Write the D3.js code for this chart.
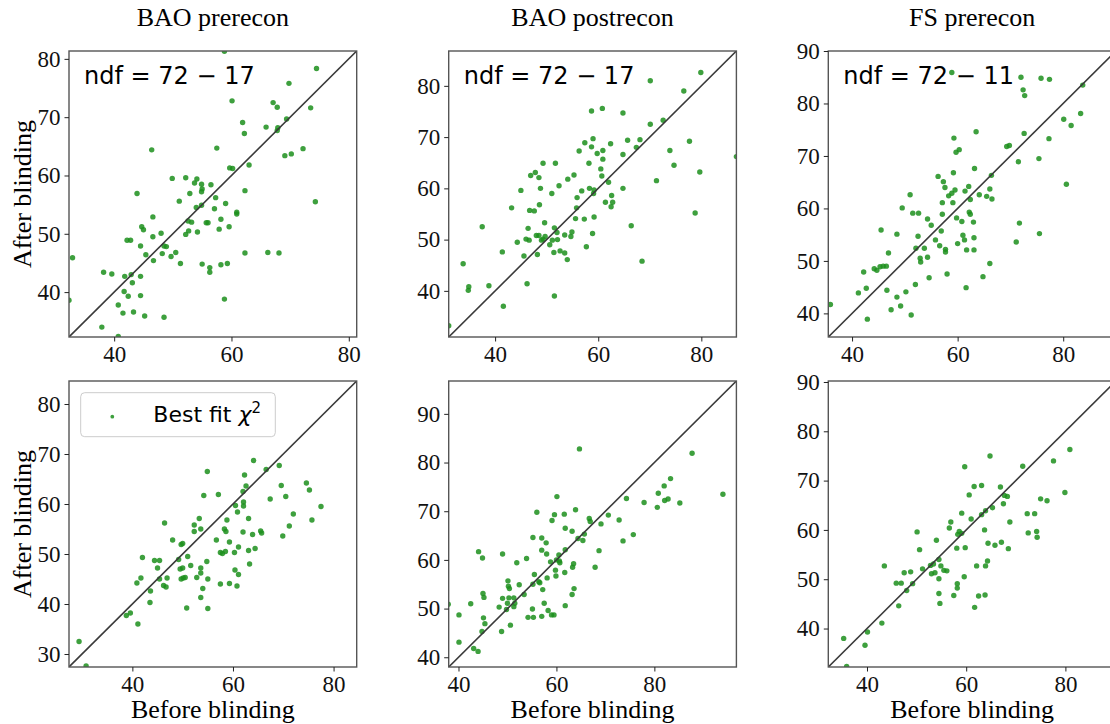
<!DOCTYPE html>
<html>
<head>
<meta charset="utf-8">
<script src="https://cdn.jsdelivr.net/npm/d3@7"></script>
<style>
  html, body { margin: 0; padding: 0; background: #fff; }
  svg { display: block; }
</style>
</head>
<body>
<svg id="chart" width="1110" height="724"></svg>
<script>
// Column titles and per-panel annotations
const columnTitles = ["BAO prerecon", "BAO postrecon", "FS prerecon"];
const ndfLabels = ["ndf = 72 \u2212 17", "ndf = 72 \u2212 17", "ndf = 72 \u2212 11"];
const legendLabel = "Best fit";
const xLabel = "Before blinding";
const yLabel = "After blinding";

// Axis limits (same for x and y in each panel), row-major order
const limits = [
  [32.3, 81.35], [31.0, 86.8], [35.5, 90.0],
  [27.4, 84.6], [38.0, 96.75], [32.2, 90.2]
];
const xTicks = [40, 60, 80];
const yTicks = [
  [40, 50, 60, 70, 80], [40, 50, 60, 70, 80], [40, 50, 60, 70, 80, 90],
  [30, 40, 50, 60, 70, 80], [40, 50, 60, 70, 80, 90], [40, 50, 60, 70, 80, 90]
];

// [before, after] pairs, top row
const baoPreUpper = [
  [58.8,81.3],[74.5,78.35],[69.8,75.8],[60.1,72.8],[67.1,72.5],[67.8,71.7],[73.5,71.6],[69.4,69.7],
  [61.9,69.1],[62.2,67.2],[65.9,68.3],[67.9,68.2],[67.8,67.7],[57.5,64.7],[46.4,64.4],[72.2,64.6],
  [70.2,63.7],[69.1,63.4],[63.0,61.8],[59.7,61.3],[60.2,61.2],[49.9,59.5],[52.2,59.6],[54.1,59.4],
  [53.7,58.7],[54.9,58.5],[56.5,58.4],[43.9,56.9],[55.0,57.7],[54.9,57.2],[52.9,56.9],[57.3,56.2],
  [51.1,55.6],[74.3,55.5],[59.0,55.2],[54.0,54.5],[57.1,54.3],[54.9,54.9],[60.9,53.7],[60.9,53.4],
  [62.3,57.4],[46.6,52.9],[52.6,52.2],[53.2,52.0],[55.7,51.9],[56.0,51.9],[58.2,52.5],[59.6,51.2],
  [57.9,50.8],[44.7,51.2],[45.0,50.7],[52.7,50.5],[54.2,50.3],[48.0,50.1],[52.2,49.9],[46.6,49.5],
  [42.2,48.9],[42.8,48.9],[44.5,47.9],[48.5,47.9],[48.9,47.8],[50.5,46.8],[45.4,46.4],[48.2,46.6],
  [49.7,46.1],[62.3,46.7],[66.2,46.8],[68.1,46.7],[46.7,45.4],[51.3,44.9],[55.0,44.8],[58.2,44.7],
  [59.3,44.9],[56.3,44.2],[56.3,43.4],[32.9,45.9],[38.2,43.4],[39.6,43.1],[41.8,42.7],[42.9,43.0],
  [44.5,42.7],[43.1,41.6],[41.7,40.1],[42.4,39.3],[44.5,39.4],[58.8,38.8],[32.3,38.6],[40.7,37.8],
  [41.5,36.4],[43.3,36.6],[45.2,35.9],[48.5,35.7],[37.9,34.0],[40.7,32.4]
];
const baoPostUpper = [
  [31.0,33.2],[33.8,45.3],[34.9,40.8],[34.8,40.1],[37.5,52.5],[38.8,41.0],[41.4,47.6],[41.6,37.0],
  [43.2,56.2],[44.3,49.5],[45.0,59.6],[45.6,46.8],[46.2,41.4],[46.4,52.2],[46.6,49.9],[46.7,55.7],
  [46.0,50.1],[46.9,62.5],[47.6,55.6],[47.8,63.1],[48.0,50.8],[48.5,62.1],[48.2,47.1],[48.6,56.8],
  [48.8,60.0],[48.5,50.8],[49.0,49.9],[49.3,50.1],[49.3,64.9],[49.6,53.3],[49.7,50.6],[50.6,49.0],
  [51.0,59.0],[51.1,49.9],[51.4,47.5],[51.5,39.0],[51.5,52.3],[51.7,64.9],[52.0,51.4],[52.1,50.0],
  [52.4,60.5],[52.6,47.8],[53.5,47.4],[53.5,50.9],[54.0,46.1],[54.1,61.8],[54.7,50.6],[54.9,51.5],
  [55.3,62.6],[55.6,54.1],[55.8,56.2],[55.9,58.2],[56.3,67.3],[56.8,59.5],[57.3,54.0],[57.4,68.9],
  [57.7,48.6],[58.2,64.9],[58.3,60.0],[58.7,75.1],[58.7,68.1],[58.9,51.2],[59.0,69.7],[59.2,59.7],
  [59.1,59.0],[59.2,54.4],[59.8,66.8],[60.5,63.8],[60.7,62.4],[60.8,75.6],[60.9,67.4],[60.9,65.7],
  [61.4,57.3],[62.0,61.2],[62.4,68.7],[62.6,58.6],[62.5,56.4],[62.8,57.3],[64.8,74.7],[64.8,66.6],
  [64.8,60.0],[65.7,69.4],[66.4,52.7],[67.4,68.0],[68.1,69.5],[68.5,45.8],[70.1,81.0],[70.1,72.5],
  [71.3,61.5],[72.6,73.3],[73.9,67.4],[74.7,64.5],[76.6,79.0],[77.7,69.2],[78.8,55.2],[79.7,63.2],
  [79.9,82.6],[86.8,66.2]
];
const fsPreUpper = [
  [35.9,41.7],[41.2,43.9],[42.7,44.8],[42.9,38.9],[42.2,47.9],[44.2,48.5],[44.7,48.2],[45.5,55.9],
  [45.3,48.9],[45.9,49.0],[46.5,49.0],[46.6,44.4],[46.9,51.5],[47.4,40.7],[48.5,55.1],[48.5,43.1],
  [49.2,41.4],[49.5,60.1],[50.2,44.1],[51.0,62.6],[51.2,39.7],[51.5,59.1],[52.0,45.5],[52.1,52.4],
  [52.5,54.7],[52.6,59.1],[52.9,50.5],[53.0,49.8],[53.7,52.4],[54.3,58.0],[54.3,50.7],[54.6,46.8],
  [55.0,56.8],[55.8,54.0],[56.3,66.1],[56.6,52.9],[56.9,55.7],[57.1,58.9],[57.1,61.1],[57.3,65.1],
  [57.6,64.0],[57.7,52.2],[57.7,51.7],[58.0,47.5],[58.3,62.4],[58.9,85.9],[58.9,62.9],[59.1,61.1],
  [59.2,66.8],[59.3,73.4],[59.5,63.5],[59.7,70.7],[59.8,58.2],[60.0,53.3],[60.3,71.2],[60.8,57.5],
  [61.0,54.9],[61.3,54.0],[61.4,63.3],[61.7,52.1],[61.6,44.9],[62.1,64.2],[62.2,59.3],[62.4,58.9],
  [62.4,61.7],[63.0,57.4],[63.1,54.4],[63.1,52.1],[63.2,67.6],[63.5,74.6],[64.1,62.6],[64.8,47.0],
  [65.5,62.3],[66.1,49.5],[66.1,63.7],[66.4,66.3],[66.5,61.8],[69.3,71.8],[69.8,72.0],[71.1,53.6],
  [71.5,68.9],[71.7,57.2],[72.0,85.0],[72.4,82.6],[72.7,81.5],[72.6,74.3],[75.4,69.5],[75.5,55.2],
  [75.8,84.8],[77.3,73.3],[77.4,84.6],[80.1,77.0],[80.6,64.6],[81.5,75.8],[83.3,78.1],[83.7,83.5]
];

// [before, after] pairs, bottom row (best-fit chi-square)
const baoPreLower = [
  [29.4,32.5],[30.8,27.6],[38.8,37.7],[39.6,38.2],[41.1,36.0],[40.9,44.2],[41.7,45.2],[42.0,49.3],
  [43.5,40.3],[43.6,42.6],[44.4,48.7],[45.0,47.2],[45.4,48.7],[45.4,45.0],[46.2,43.7],[46.4,56.2],
  [46.7,43.4],[46.9,45.2],[48.0,52.8],[49.2,48.9],[49.5,47.0],[49.7,51.9],[50.0,52.1],[49.7,45.0],
  [50.0,47.2],[50.1,45.2],[50.5,45.3],[50.8,39.2],[51.0,49.5],[51.6,47.7],[52.3,55.8],[52.3,54.5],
  [52.8,45.3],[53.3,57.1],[53.6,55.0],[53.6,47.2],[53.6,46.2],[53.6,41.3],[54.0,43.1],[54.2,61.7],
  [54.8,48.5],[54.9,66.5],[55.0,45.0],[55.0,39.1],[56.7,52.8],[57.1,61.9],[57.5,44.0],[57.5,50.3],
  [57.9,50.1],[58.3,55.0],[58.5,50.5],[58.6,54.5],[58.8,56.8],[59.3,52.4],[59.3,44.1],[60.3,50.3],
  [60.4,46.8],[60.5,59.7],[60.9,58.4],[60.8,43.6],[61.1,45.9],[61.1,51.4],[62.0,62.5],[62.0,54.4],
  [62.1,60.4],[62.1,59.6],[62.3,65.8],[62.6,63.6],[63.1,57.1],[63.1,50.7],[63.3,48.0],[63.9,53.9],
  [64.1,68.7],[64.4,51.1],[65.5,54.6],[65.7,54.2],[66.6,66.9],[67.4,61.0],[69.2,67.7],[69.6,63.7],
  [69.9,53.6],[70.5,61.5],[71.2,55.6],[72.0,58.0],[74.6,64.2],[75.2,62.8],[75.7,56.8],[77.5,59.5]
];
const baoPostLower = [
  [37.9,50.9],[40.1,48.7],[40.1,43.1],[42.5,51.0],[43.1,41.8],[44.0,41.2],[44.1,61.7],[44.9,60.4],
  [44.8,45.3],[45.0,53.1],[45.2,52.3],[45.1,48.1],[45.4,46.9],[48.3,50.3],[48.8,45.3],[49.0,61.2],
  [49.0,52.1],[49.8,49.8],[50.0,51.1],[50.1,55.7],[50.2,54.6],[50.3,52.2],[50.4,54.1],[50.6,46.6],
  [51.3,52.2],[51.3,50.4],[51.5,51.1],[51.9,59.4],[52.4,54.9],[53.4,52.9],[53.9,60.3],[54.2,48.2],
  [55.1,49.9],[55.2,55.0],[55.2,64.6],[55.3,48.2],[55.5,57.0],[56.0,69.8],[56.4,55.5],[56.6,55.3],
  [57.0,62.0],[57.0,64.5],[57.0,48.4],[57.2,53.9],[57.5,51.1],[57.9,63.5],[58.0,61.2],[58.1,56.3],
  [58.3,49.6],[58.8,59.6],[59.0,48.7],[59.1,68.1],[59.5,48.7],[59.6,69.3],[59.8,57.9],[59.9,56.7],
  [60.1,73.0],[60.0,60.0],[60.5,61.0],[60.6,59.8],[60.7,59.4],[61.6,69.4],[61.7,57.4],[61.8,50.6],
  [61.8,62.1],[61.8,66.5],[63.2,52.9],[63.3,58.5],[63.2,65.9],[63.5,59.2],[63.6,54.1],[63.9,70.3],
  [64.4,64.4],[64.7,82.8],[65.4,64.0],[65.7,65.3],[66.7,68.5],[66.9,67.9],[67.9,58.5],[68.7,61.9],
  [69.1,67.4],[70.6,69.2],[72.8,68.2],[73.6,63.9],[74.3,72.6],[75.7,65.2],[77.9,71.8],[80.6,70.8],
  [80.8,73.7],[82.0,75.2],[82.1,72.2],[82.8,72.5],[83.3,76.7],[85.2,71.7],[87.7,81.9],[94.0,73.5]
];
const fsPreLower = [
  [35.3,38.0],[35.9,32.3],[39.6,36.6],[40.1,39.3],[43.0,41.1],[43.5,52.7],[45.9,49.2],[46.4,44.6],
  [46.9,49.2],[47.5,51.3],[48.0,47.7],[48.8,51.5],[49.2,49.1],[50.1,59.6],[50.6,56.0],[51.2,52.1],
  [52.8,52.8],[53.0,51.1],[53.4,53.1],[53.7,51.3],[54.0,57.9],[54.5,54.0],[54.5,50.1],[54.5,47.1],
  [54.7,45.1],[54.9,52.7],[55.5,51.8],[56.1,51.7],[56.6,60.4],[56.9,61.6],[57.5,46.7],[58.1,56.3],
  [58.2,49.1],[58.2,48.2],[58.3,59.1],[58.6,59.7],[59.1,59.3],[59.1,63.4],[59.7,72.8],[59.8,56.4],
  [59.6,50.5],[60.6,67.1],[61.0,62.2],[61.6,68.8],[61.7,44.3],[62.1,52.7],[62.5,46.6],[63.1,69.0],
  [63.1,63.1],[63.7,60.0],[63.8,46.8],[63.9,63.9],[63.9,52.7],[64.3,53.7],[64.4,57.3],[64.8,75.0],
  [65.3,64.5],[65.8,56.9],[66.9,68.7],[67.1,57.5],[67.5,65.3],[67.7,67.0],[68.3,66.8],[68.5,56.2],
  [68.8,61.6],[71.4,72.9],[72.3,63.3],[72.5,59.4],[73.8,63.3],[74.2,59.7],[74.3,58.5],[75.0,66.3],
  [76.3,65.9],[77.6,74.0],[79.9,67.6],[80.9,76.3]
];

const panelData = [baoPreUpper, baoPostUpper, fsPreUpper, baoPreLower, baoPostLower, fsPreLower];

// Layout
const colLeft = [69, 448.7, 828.3];
const rowTop = [51, 381];
const pw = 287.7, ph = 286;
const serif = "'Liberation Serif', 'Times New Roman', serif";
const sans = "'DejaVu Sans', sans-serif";
const pointColor = "#1c8f1c";

const svg = d3.select("#chart");

// Column titles
columnTitles.forEach((t, c) => {
  svg.append("text")
    .attr("x", colLeft[c] + pw / 2)
    .attr("y", 26)
    .attr("text-anchor", "middle")
    .attr("font-family", serif)
    .attr("font-size", 26)
    .attr("fill", "#000")
    .text(t);
});

panelData.forEach((data, i) => {
  const row = Math.floor(i / 3), col = i % 3;
  const lim = limits[i];
  const g = svg.append("g").attr("transform", `translate(${colLeft[col]},${rowTop[row]})`);
  const x = d3.scaleLinear().domain(lim).range([0, pw]);
  const y = d3.scaleLinear().domain(lim).range([ph, 0]);

  const clipId = "clip" + i;
  g.append("clipPath").attr("id", clipId)
    .append("rect").attr("width", pw).attr("height", ph);

  const plot = g.append("g").attr("clip-path", `url(#${clipId})`);

  plot.selectAll("circle")
    .data(data)
    .join("circle")
    .attr("cx", d => x(d[0]))
    .attr("cy", d => y(d[1]))
    .attr("r", 2.7)
    .attr("fill", pointColor)
    .attr("fill-opacity", 0.85);

  // identity line
  plot.append("line")
    .attr("x1", x(lim[0])).attr("y1", y(lim[0]))
    .attr("x2", x(lim[1])).attr("y2", y(lim[1]))
    .attr("stroke", "#3a3a3a")
    .attr("stroke-width", 1.6);

  // frame
  g.append("rect")
    .attr("width", pw).attr("height", ph)
    .attr("fill", "none")
    .attr("stroke", "#555")
    .attr("stroke-width", 1.4);

  const xAxis = g.append("g")
    .attr("transform", `translate(0,${ph})`)
    .call(d3.axisBottom(x).tickValues(xTicks).tickSize(4.5).tickPadding(4).tickFormat(d3.format("d")));
  const yAxis = g.append("g")
    .call(d3.axisLeft(y).tickValues(yTicks[i]).tickSize(4.5).tickPadding(4).tickFormat(d3.format("d")));
  [xAxis, yAxis].forEach(a => {
    a.select(".domain").remove();
    a.selectAll(".tick line").attr("stroke", "#222").attr("stroke-width", 1);
    a.selectAll(".tick text")
      .attr("font-family", serif)
      .attr("font-size", 23)
      .attr("fill", "#111");
  });

  if (row === 0) {
    g.append("text")
      .attr("x", 15)
      .attr("y", 32.5)
      .attr("font-family", sans)
      .attr("font-size", 24)
      .attr("fill", "#000")
      .text(ndfLabels[col]);
  } else {
    g.append("text")
      .attr("x", pw / 2)
      .attr("y", ph + 51)
      .attr("text-anchor", "middle")
      .attr("font-family", serif)
      .attr("font-size", 26)
      .attr("fill", "#000")
      .text(xLabel);
  }

  if (col === 0) {
    g.append("text")
      .attr("transform", `translate(${31 - colLeft[0]},${ph / 2}) rotate(-90)`)
      .attr("text-anchor", "middle")
      .attr("font-family", serif)
      .attr("font-size", 26)
      .attr("fill", "#000")
      .text(yLabel);
  }

  if (i === 3) {
    const lg = g.append("g").attr("transform", "translate(11.7,11.7)");
    lg.append("rect")
      .attr("width", 194.6).attr("height", 44)
      .attr("rx", 4)
      .attr("fill", "#fff").attr("fill-opacity", 0.8)
      .attr("stroke", "#ccc").attr("stroke-width", 1);
    lg.append("circle")
      .attr("cx", 31.6).attr("cy", 24)
      .attr("r", 1.9)
      .attr("fill", pointColor).attr("fill-opacity", 0.85);
    const t = lg.append("text")
      .attr("x", 72.6).attr("y", 29)
      .attr("font-family", sans)
      .attr("font-size", 22)
      .attr("fill", "#000");
    t.append("tspan").text(legendLabel + " ");
    t.append("tspan").attr("font-style", "italic").text("\u03c7");
    t.append("tspan").attr("font-size", 15).attr("dy", -9).text("2");
  }
});
</script>
</body>
</html>
